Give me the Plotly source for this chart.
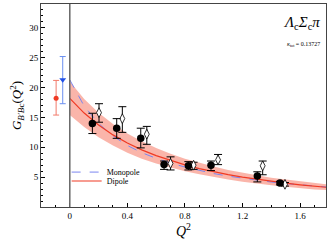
import plotly.graph_objects as go

# curve samples
q_curve = [0, 0.1, 0.2, 0.3, 0.4, 0.5, 0.6, 0.7, 0.8, 0.9, 1.0, 1.1, 1.2, 1.3, 1.4, 1.5, 1.6, 1.7, 1.8]
dipole = [18.2, 15.73, 13.73, 12.08, 10.72, 9.57, 8.60, 7.77, 7.06, 6.43, 5.89, 5.41, 4.99, 4.62, 4.29, 3.99, 3.72, 3.48, 3.26]
dipole_up = [21.0, 18.1, 15.8, 13.9, 12.3, 11.0, 9.9, 8.9, 8.1, 7.4, 6.8, 6.2, 5.7, 5.3, 4.9, 4.6, 4.3, 4.0, 3.75]
dipole_lo = [15.4, 13.4, 11.7, 10.3, 9.1, 8.1, 7.3, 6.6, 6.0, 5.5, 5.0, 4.6, 4.25, 3.9, 3.65, 3.4, 3.15, 2.95, 2.8]
monopole = [21.3, 16.9, 14.0, 11.9, 10.3, 9.1, 8.15, 7.35, 6.7, 6.1, 5.6, 5.17, 4.8, 4.47, 4.18, 3.93, 3.7, 3.5, 3.32]

# lattice points (filled)
q_fill = [0.157, 0.326, 0.493, 0.655, 0.824, 0.981, 1.303, 1.46]
g_fill = [14.0, 13.2, 11.5, 7.1, 6.9, 7.0, 5.2, 4.0]
g_fill_up = [1.7, 1.6, 1.7, 0.6, 0.7, 0.7, 0.7, 0.3]
g_fill_dn = [1.7, 1.7, 1.6, 0.8, 0.7, 0.9, 1.0, 0.3]

# lattice points (open)
q_open = [0.203, 0.365, 0.535, 0.70, 0.86, 1.03, 1.34, 1.495]
g_open = [15.8, 14.8, 12.2, 7.3, 7.0, 7.9, 6.9, 3.8]
g_open_up = [1.5, 2.0, 1.3, 1.1, 0.5, 0.9, 0.8, 0.3]
g_open_dn = [1.6, 2.3, 1.7, 1.1, 0.7, 0.8, 1.5, 0.3]

# Q^2 = 0 extrapolations
q_dip0 = [-0.095]; g_dip0 = [18.2]; dip0_up = [3.0]; dip0_dn = [2.8]
q_mon0 = [-0.049]; g_mon0 = [21.3]; mon0_up = [3.9]; mon0_dn = [4.0]

serif = "Liberation Serif"
fig = go.Figure()

fig.add_trace(go.Scatter(x=q_curve, y=dipole_up, mode="lines", line=dict(width=0),
                         showlegend=False, hoverinfo="skip"))
fig.add_trace(go.Scatter(x=q_curve, y=dipole_lo, mode="lines", line=dict(width=0),
                         fill="tonexty", fillcolor="rgba(245,120,100,0.55)",
                         showlegend=False, hoverinfo="skip"))
fig.add_trace(go.Scatter(x=q_curve, y=monopole, mode="lines", name="Monopole", legend="legend",
                         line=dict(color="#7b86f0", width=1, dash="dash")))
fig.add_trace(go.Scatter(x=q_curve, y=dipole, mode="lines", name="Dipole", legend="legend2",
                         line=dict(color="#f03a24", width=1.2)))

fig.add_trace(go.Scatter(x=q_open, y=g_open, mode="markers", showlegend=False,
                         marker=dict(symbol="diamond-tall", size=7, color="white",
                                     line=dict(color="black", width=0.8)),
                         error_y=dict(type="data", symmetric=False, array=g_open_up,
                                      arrayminus=g_open_dn, color="black", thickness=1, width=4)))
fig.add_trace(go.Scatter(x=q_fill, y=g_fill, mode="markers", showlegend=False,
                         marker=dict(symbol="circle", size=7.5, color="black"),
                         error_y=dict(type="data", symmetric=False, array=g_fill_up,
                                      arrayminus=g_fill_dn, color="black", thickness=1, width=4)))

fig.add_trace(go.Scatter(x=q_dip0, y=g_dip0, mode="markers", showlegend=False,
                         marker=dict(symbol="circle", size=5, color="#f03a24"),
                         error_y=dict(type="data", symmetric=False, array=dip0_up,
                                      arrayminus=dip0_dn, color="#f27a6a", thickness=1, width=3)))
fig.add_trace(go.Scatter(x=q_mon0, y=g_mon0, mode="markers", showlegend=False,
                         marker=dict(symbol="triangle-down", size=6, color="#2050e8"),
                         error_y=dict(type="data", symmetric=False, array=mon0_up,
                                      arrayminus=mon0_dn, color="#6a8ff0", thickness=1, width=3)))

fig.add_shape(type="line", xref="x", yref="paper", x0=0, x1=0, y0=0, y1=1,
              line=dict(color="#666666", width=1.5))

fig.add_annotation(xref="paper", yref="paper", x=0.985, y=0.905, xanchor="right", yanchor="middle",
                   text="<i>Λ</i><sub>c</sub><i>Σ</i><sub>c</sub><i>π</i>", showarrow=False,
                   font=dict(family=serif, size=15, color="black"))
fig.add_annotation(xref="paper", yref="paper", x=0.985, y=0.80, xanchor="right", yanchor="middle",
                   text="<i>κ</i><sub>tot</sub> = 0.13727", showarrow=False,
                   font=dict(family=serif, size=6, color="black"))

axis_common = dict(showline=True, linecolor="#444444", linewidth=1, mirror=True,
                   ticks="inside", ticklen=4, tickcolor="black", showgrid=False, zeroline=False,
                   automargin=False,
                   tickfont=dict(family=serif, size=9, color="black"))

fig.update_xaxes(range=[-0.2, 1.78], tickvals=[0, 0.4, 0.8, 1.2, 1.6],
                 ticktext=["0", "0.4", "0.8", "1.2", "1.6"],
                 minor=dict(ticks="inside", ticklen=2, dtick=0.1, tickcolor="black"),
                 title=dict(text="<i>Q</i><sup>2</sup>", font=dict(family=serif, size=14, color="black"),
                            standoff=6),
                 **axis_common)
fig.update_yaxes(range=[0, 34], tickvals=[5, 10, 15, 20, 25, 30],
                 minor=dict(ticks="inside", ticklen=2, dtick=1, tickcolor="black"),
                 title=dict(text="<i>G</i><sub><i>B′B</i>c</sub>(<i>Q</i><sup>2</sup>)",
                            font=dict(family=serif, size=13, color="black"), standoff=4),
                 **axis_common)

leg_common = dict(xanchor="left", yanchor="middle", bgcolor="rgba(0,0,0,0)",
                  font=dict(family=serif, size=8, color="black"), itemwidth=30,
                  borderwidth=0)
fig.update_layout(width=332, height=249, margin=dict(l=41, r=6, t=4, b=42),
                  paper_bgcolor="white", plot_bgcolor="white",
                  legend=dict(x=0.09, y=0.172, **leg_common),
                  legend2=dict(x=0.09, y=0.128, **leg_common))

fig.write_html("out.html", config={"displayModeBar": False},
               post_script="document.body.style.margin='0';")
